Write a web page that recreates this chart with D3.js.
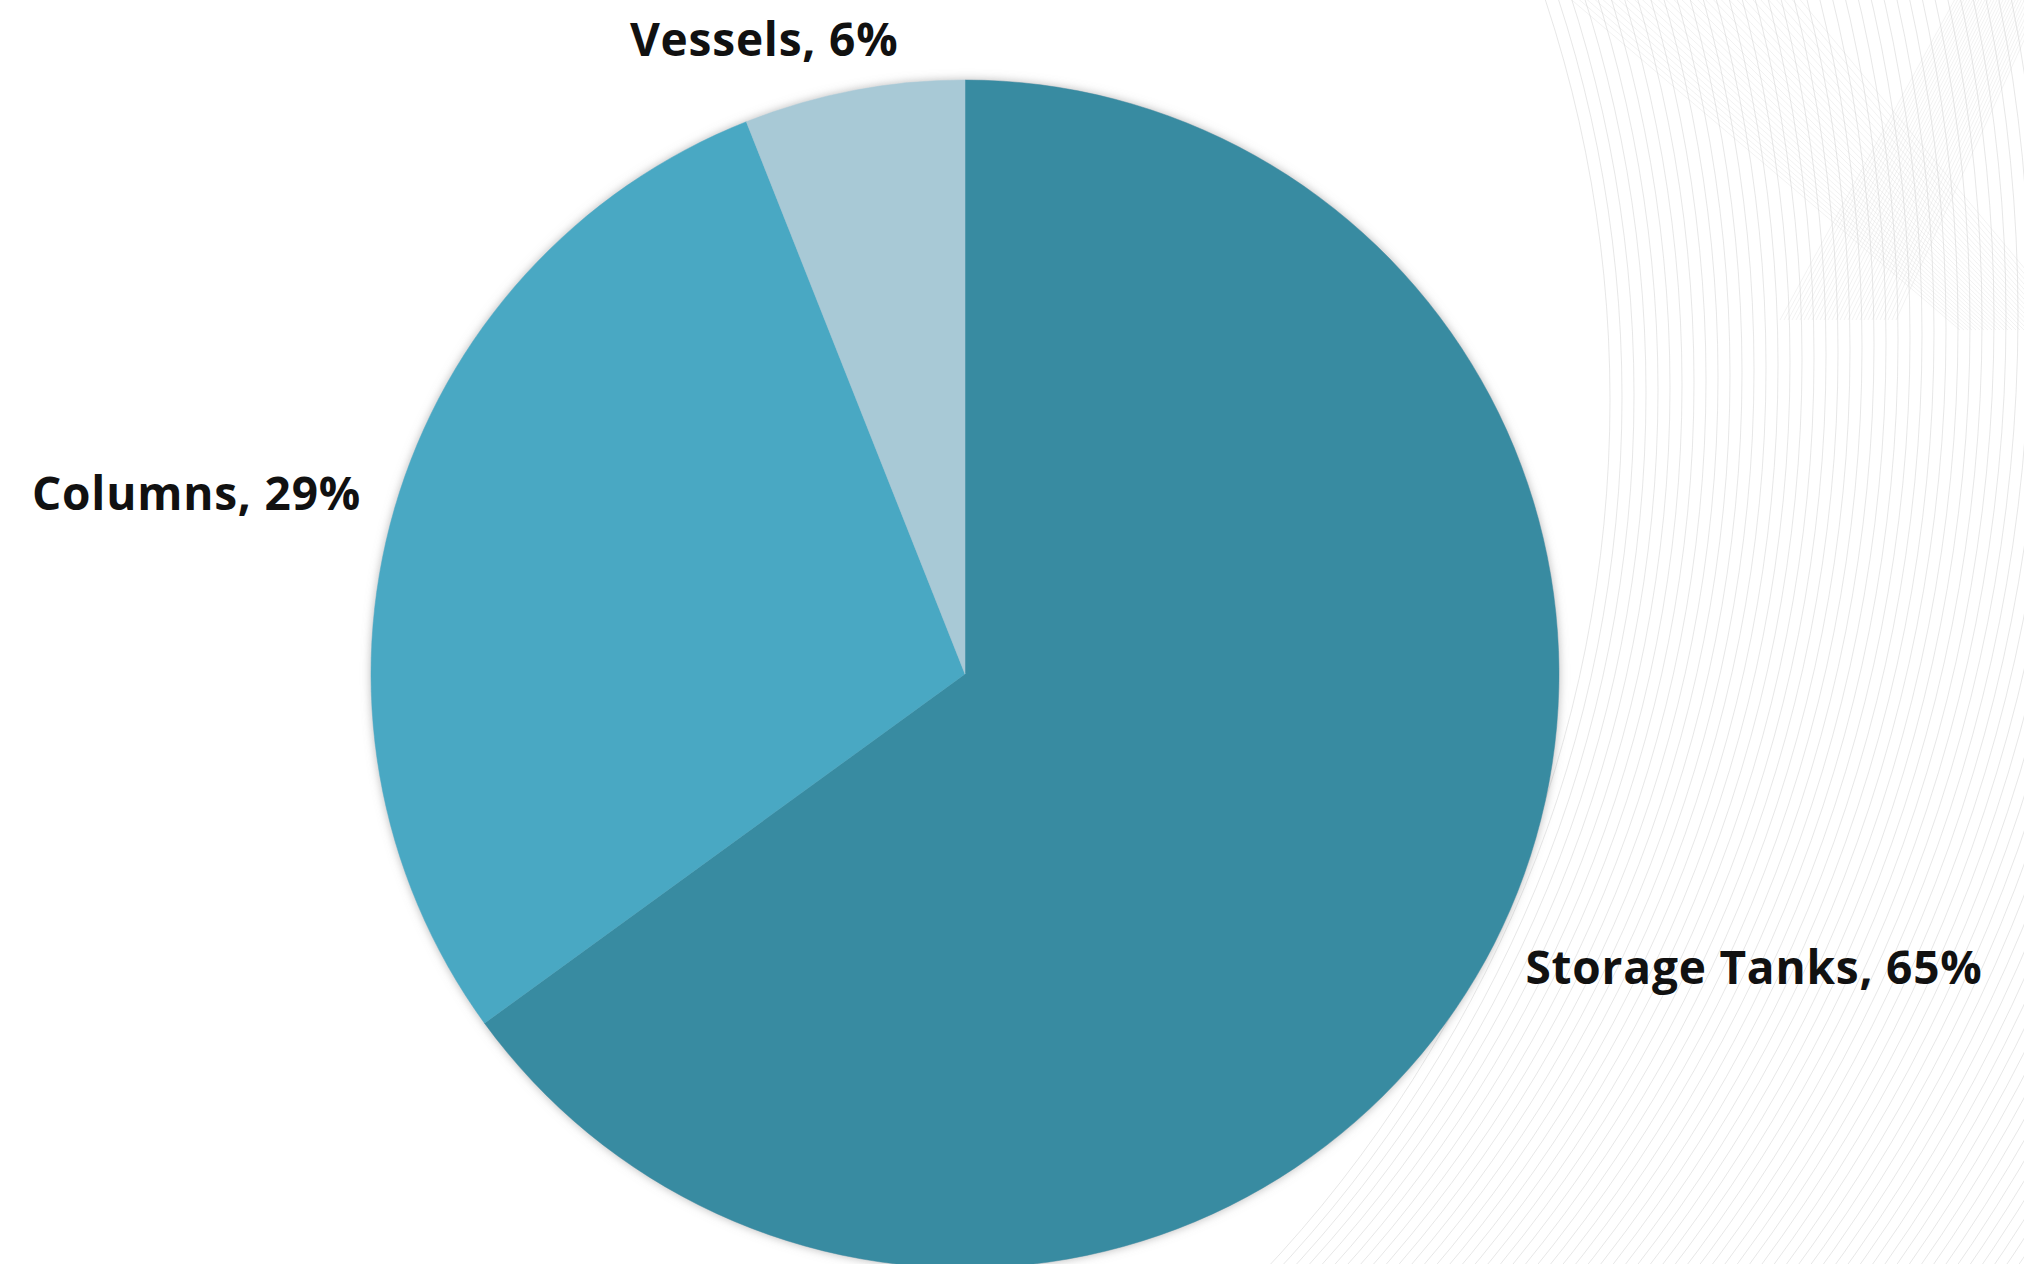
<!DOCTYPE html>
<html>
<head>
<meta charset="utf-8">
<script src="https://cdn.jsdelivr.net/npm/d3@7"></script>
<style>
  html, body { margin: 0; padding: 0; background: #ffffff; }
  svg { display: block; }
</style>
</head>
<body>
<svg id="chart"></svg>
<script>
// data
var categories = ["Storage Tanks", "Columns", "Vessels"];
var shares = [65, 29, 6];
var sliceColors = ["#398ba1", "#49a8c3", "#a8c9d6"];

var W = 2024, H = 1264;
var cx = 965, cy = 674, radius = 594;

var svg = d3.select("#chart").attr("width", W).attr("height", H);

// faint decorative line pattern on the right
var bg = svg.append("g").attr("fill", "none").attr("stroke", "#bdbdbd").attr("stroke-width", 0.8);
d3.range(80).forEach(function(i) {
  bg.append("circle")
    .attr("cx", 340 + i * 3)
    .attr("cy", 400 - i * 2.5)
    .attr("r", 1270 + i * 9)
    .attr("stroke-opacity", 0.45);
});
var band = svg.append("g").attr("fill", "none").attr("stroke", "#cfcfcf").attr("stroke-width", 0.8).attr("stroke-opacity", 0.35);
d3.range(30).forEach(function(i) {
  band.append("line")
    .attr("x1", 1560 + i * 8).attr("y1", -10)
    .attr("x2", 1960 + i * 4).attr("y2", 330);
  band.append("line")
    .attr("x1", 1960 + i * 3).attr("y1", -10)
    .attr("x2", 1780 + i * 4).attr("y2", 320);
});

// soft halo around the pie
var defs = svg.append("defs");
var f = defs.append("filter").attr("id", "halo")
  .attr("x", "-10%").attr("y", "-10%").attr("width", "120%").attr("height", "120%");
f.append("feDropShadow")
  .attr("dx", 0).attr("dy", 0)
  .attr("stdDeviation", 5)
  .attr("flood-color", "#8a8a8a")
  .attr("flood-opacity", 0.6);

var color = d3.scaleOrdinal().domain(categories).range(sliceColors);

var pie = d3.pie().sort(null).value(function(d) { return d.value; });
var arcs = pie(categories.map(function(c, i) { return { name: c, value: shares[i] }; }));

var arc = d3.arc().innerRadius(0).outerRadius(radius);

var g = svg.append("g").attr("transform", "translate(" + cx + "," + cy + ")");

g.append("g").attr("filter", "url(#halo)")
  .selectAll("path")
  .data(arcs)
  .join("path")
  .attr("d", arc)
  .attr("fill", function(d) { return color(d.data.name); })
  .attr("stroke", function(d) { return color(d.data.name); })
  .attr("stroke-width", 0.5);

// labels outside the pie
var labelR = radius + 35;
var capH = 33;
var labels = g.selectAll("text.lbl")
  .data(arcs)
  .join("text")
  .attr("class", "lbl")
  .attr("font-family", "'Open Sans', sans-serif")
  .attr("font-weight", 700)
  .attr("font-size", 46)
  .attr("letter-spacing", 0.8)
  .attr("fill", "#111")
  .text(function(d) { return d.data.name + ", " + d.data.value + "%"; });

labels.each(function(d) {
  var a = (d.startAngle + d.endAngle) / 2;
  var s = Math.sin(a), c = Math.cos(a);
  var px = s * labelR, py = -c * labelR;
  var w = this.getComputedTextLength();
  var frac = 0.5 * (1 - Math.max(-1, Math.min(1, s * 3.3)));
  var midY = py - c * capH / 2;
  d3.select(this)
    .attr("x", px - w * frac)
    .attr("y", midY + capH / 2);
});
</script>
</body>
</html>
